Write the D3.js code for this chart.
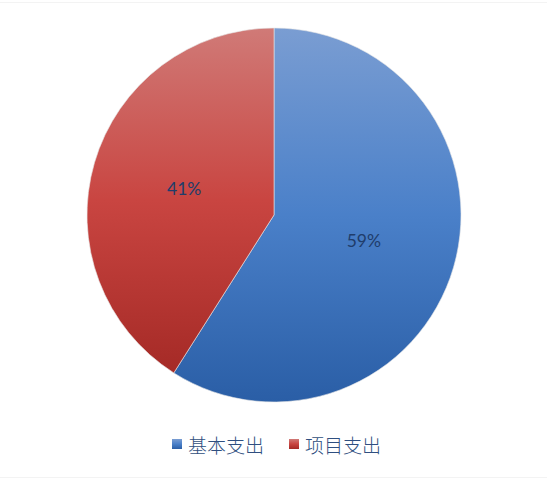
<!DOCTYPE html>
<html>
<head>
<meta charset="utf-8">
<script src="https://cdn.jsdelivr.net/npm/d3@7"></script>
<style>
  body { margin: 0; background: #fff; }
</style>
</head>
<body>
<div id="chart"></div>
<script>
const categories = ["基本支出", "项目支出"];
const shares = [59, 41];
const labels = ["59%", "41%"];
const gradientStops = [
    ["#7a9dd2", "#4a80c9", "#2a5ea6"],
    ["#d07a77", "#c94541", "#a52a26"]
];

const width = 547;
const height = 491;
const cx = 274, cy = 215, radius = 187;

const svg = d3.select("#chart")
    .append("svg")
    .attr("width", width)
    .attr("height", height);

// faint frame lines from the original export
svg.append("line")
    .attr("x1", 0).attr("x2", width)
    .attr("y1", 2.5).attr("y2", 2.5)
    .attr("stroke", "#f3f3f3");
svg.append("line")
    .attr("x1", 0).attr("x2", width)
    .attr("y1", 477.5).attr("y2", 477.5)
    .attr("stroke", "#f3f3f3");

const defs = svg.append("defs");
gradientStops.forEach((stops, i) => {
    const g = defs.append("linearGradient")
        .attr("id", `grad${i}`)
        .attr("x1", 0).attr("y1", 0)
        .attr("x2", 0).attr("y2", 1);
    g.append("stop").attr("offset", "0%").attr("stop-color", stops[0]);
    g.append("stop").attr("offset", "50%").attr("stop-color", stops[1]);
    g.append("stop").attr("offset", "100%").attr("stop-color", stops[2]);
});

const pie = d3.pie().sort(null).value(d => d);
const arcs = pie(shares);
const arc = d3.arc().innerRadius(0).outerRadius(radius);
const labelArc = d3.arc().innerRadius(radius * 0.5).outerRadius(radius * 0.5);

const g = svg.append("g")
    .attr("transform", `translate(${cx}, ${cy})`);

g.selectAll("path")
    .data(arcs)
    .enter()
    .append("path")
    .attr("d", arc)
    .attr("fill", (d, i) => `url(#grad${i})`)
    .attr("stroke", "#e6e6e6")
    .attr("stroke-width", 0.6);

g.selectAll("text.lbl")
    .data(arcs)
    .enter()
    .append("text")
    .attr("class", "lbl")
    .attr("transform", d => `translate(${labelArc.centroid(d)})`)
    .attr("text-anchor", "middle")
    .attr("dy", "0.35em")
    .style("font-family", "Lato, 'Open Sans', sans-serif")
    .style("font-size", "17.5px")
    .attr("fill", "#203d6b")
    .text((d, i) => labels[i]);

// legend
const legendX = [172, 289];
const legend = svg.append("g");
categories.forEach((c, i) => {
    legend.append("rect")
        .attr("x", legendX[i])
        .attr("y", 439)
        .attr("width", 10)
        .attr("height", 10)
        .attr("fill", `url(#grad${i})`);
    legend.append("text")
        .attr("x", legendX[i] + 16)
        .attr("y", 452.5)
        .style("font-family", "'Noto Sans CJK SC', sans-serif")
        .style("font-size", "19px")
        .style("font-weight", 300)
        .attr("fill", "#2f4f80")
        .text(c);
});
</script>
</body>
</html>
